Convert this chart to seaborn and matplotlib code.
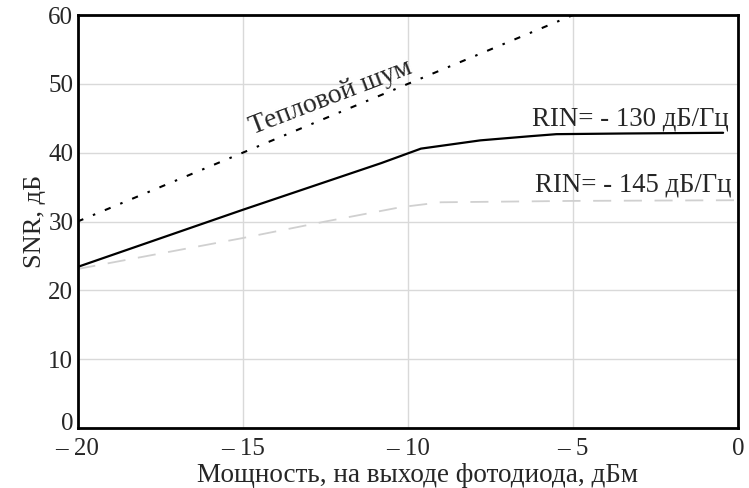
import matplotlib
matplotlib.use("Agg")
import matplotlib.pyplot as plt
import matplotlib.transforms as mtransforms
import seaborn as sns
import pandas as pd
import numpy as np

# Data
thermal_x = [-20, -5]
thermal_y = [30, 60]

rin130_x = [-20, -15, -10.8, -9.6, -7.8, -6.3, -5.5, -3.4, -0.45]
rin130_y = [23.4, 31.7, 38.5, 40.6, 41.8, 42.4, 42.7, 42.8, 42.9]

rin145_x = [-20, -15, -12.5, -10.2, -9.0, -5, 0]
rin145_y = [23.1, 27.6, 30.0, 32.1, 32.8, 33.0, 33.1]

x_ticks = [-20, -15, -10, -5, 0]
x_tick_labels = ["\u2013 20", "\u2013 15", "\u2013 10", "\u2013 5", "0"]
y_ticks = [0, 10, 20, 30, 40, 50, 60]

sns.set_style("white")
plt.rcParams['font.family'] = ['Liberation Serif', 'DejaVu Serif']

fig = plt.figure(figsize=(7.49, 4.88), dpi=100)
ax = fig.add_axes([0.1035, 0.123, 0.8818, 0.846])

df_th = pd.DataFrame({"x": thermal_x, "y": thermal_y})
df_130 = pd.DataFrame({"x": rin130_x, "y": rin130_y})
df_145 = pd.DataFrame({"x": rin145_x, "y": rin145_y})

sns.lineplot(data=df_145, x="x", y="y", ax=ax, color="#d0d0d0", lw=1.3,
             sort=False, linestyle=(0, (10, 7)))
sns.lineplot(data=df_130, x="x", y="y", ax=ax, color="black", lw=1.6, sort=False)
sns.lineplot(data=df_th, x="x", y="y", ax=ax, color="black", lw=1.5, sort=False,
             linestyle=(0, (3, 5, 1.2, 5)))

ax.set_xlim(-20, 0)
ax.set_ylim(0, 60)
ax.set_xticks(x_ticks)
ax.set_xticklabels(x_tick_labels)
ax.set_yticks(y_ticks)
ax.grid(True, color="#d9d9d9", lw=1.0)
ax.set_axisbelow(True)
for s in ax.spines.values():
    s.set_visible(True)
    s.set_color("black")
    s.set_linewidth(2)
ax.tick_params(axis="both", length=0, labelsize=18)
ax.tick_params(axis="x", pad=7)
ax.tick_params(axis="y", pad=3)

# nudge the y "0" label up a little, as in the reference
fig.canvas.draw()
ytick0 = ax.yaxis.get_major_ticks()[0].label1
ytick0.set_transform(ytick0.get_transform() +
                     mtransforms.ScaledTranslation(0, 0.06, fig.dpi_scale_trans))

ax.set_xlabel("Мощность, на выходе фотодиода, дБм", fontsize=19.5, labelpad=0)
ax.xaxis.set_label_coords(0.515, -0.085)
ax.set_ylabel("SNR, дБ", fontsize=19, labelpad=2)

ax.text(-6.25, 44.0, "RIN= - 130 дБ/Гц", fontsize=19.3, ha="left", va="baseline")
ax.text(-6.15, 34.3, "RIN= - 145 дБ/Гц", fontsize=19.3, ha="left", va="baseline")
ax.text(-14.7, 42.6, "Тепловой шум", fontsize=20, ha="left", va="baseline",
        rotation=21, rotation_mode="anchor")

fig.savefig("out.png", dpi=100)
